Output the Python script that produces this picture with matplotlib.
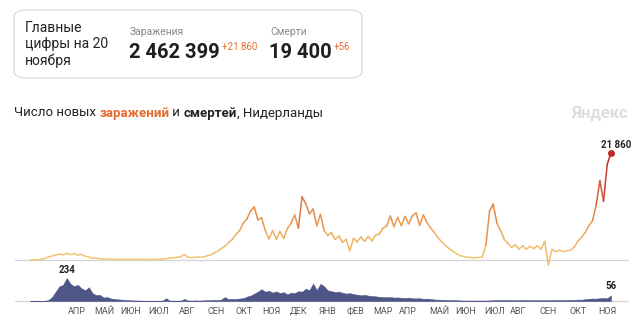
import matplotlib
matplotlib.use('Agg')
import matplotlib.pyplot as plt
from matplotlib.collections import LineCollection
from matplotlib.colors import LinearSegmentedColormap, Normalize
from matplotlib.patches import FancyBboxPatch
from matplotlib.transforms import blended_transform_factory
import numpy as np
import pandas as pd

plt.rcParams['font.family'] = ['Roboto', 'DejaVu Sans']

# ---------------------------------------------------------------------------
# data (one value every 4 days from 27 Feb 2020)
# ---------------------------------------------------------------------------

start_date = '2020-02-27'
step_days = 4

cases = [
    0, 10, 50, 150, 300, 600, 850, 1000, 1250, 1050,
    1350, 1100, 1300, 1000, 1150, 750, 600, 400, 350, 250,
    230, 200, 180, 160, 150, 140, 130, 150, 120, 140,
    130, 100, 110, 120, 140, 180, 200, 260, 400, 450,
    550, 650, 1100, 550, 500, 550, 580, 600, 800, 1000,
    1400, 1800, 2300, 2800, 3500, 4200, 5200, 6000, 7500, 8400,
    10000, 10800, 8200, 8600, 6000, 4300, 6000, 4200, 5800, 4400,
    6400, 7500, 9200, 6500, 12900, 11500, 9400, 10400, 7000, 9300,
    6000, 5000, 5600, 4200, 4900, 3600, 4200, 1900, 4400, 3700,
    4700, 3800, 4800, 3900, 5100, 5300, 6500, 6900, 9000, 6800,
    8700, 7000, 8900, 7400, 9000, 9600, 7100, 9200, 7600, 6500,
    5600, 4500, 3700, 3000, 2300, 1800, 1300, 900, 700, 550,
    500, 450, 500, 600, 3000, 10000, 11400, 7500, 6000, 4200,
    3400, 2600, 3100, 2200, 2900, 2200, 2800, 2300, 2900, 2200,
    3800, -1000, 2200, 1700, 2000, 1700, 1900, 2000, 2600, 3800,
    4600, 5600, 7000, 8000, 11200, 16200, 12000, 19500, 21860,
]

deaths = [
    0, 0, 0, 0, 1, 10, 40, 95, 150, 165,
    234, 175, 150, 165, 130, 110, 140, 80, 60, 64,
    35, 40, 25, 20, 16, 14, 10, 8, 6, 5,
    4, 3, 3, 2, 3, 3, 2, 28, 3, 4,
    3, 4, 20, 5, 4, 6, 5, 6, 8, 10,
    12, 10, 14, 40, 18, 22, 20, 25, 28, 45,
    55, 75, 95, 120, 95, 105, 85, 98, 80, 90,
    68, 85, 80, 100, 95, 125, 110, 177, 110, 175,
    150, 108, 100, 92, 95, 85, 75, 80, 70, 65,
    58, 62, 55, 50, 48, 42, 40, 38, 40, 35,
    36, 33, 30, 34, 28, 26, 28, 22, 24, 20,
    15, 14, 12, 11, 10, 9, 8, 6, 5, 5,
    4, 4, 5, 4, 5, 6, 8, 10, 9, 10,
    9, 8, 9, 8, 10, 9, 8, 9, 7, 8,
    9, 7, 8, 10, 9, 10, 11, 10, 12, 14,
    13, 18, 22, 25, 24, 28, 30, 27, 56,
]

month_labels = ['АПР', 'МАЙ', 'ИЮН', 'ИЮЛ', 'АВГ', 'СЕН', 'ОКТ', 'НОЯ', 'ДЕК',
                'ЯНВ', 'ФЕВ', 'МАР', 'АПР', 'МАЙ', 'ИЮН', 'ИЮЛ', 'АВГ', 'СЕН',
                'ОКТ', 'НОЯ']
month_dates = ['2020-04-18', '2020-05-18', '2020-06-16', '2020-07-16', '2020-08-16',
               '2020-09-16', '2020-10-17', '2020-11-16', '2020-12-15', '2021-01-16',
               '2021-02-15', '2021-03-17', '2021-04-13', '2021-05-17', '2021-06-15',
               '2021-07-17', '2021-08-11', '2021-09-13', '2021-10-15', '2021-11-16']

# ---------------------------------------------------------------------------
# layout helpers (pixel -> figure fraction)
# ---------------------------------------------------------------------------

W, H = 640, 328
def fx(x): return x / W
def fy(y): return 1 - y / H

fig = plt.figure(figsize=(6.4, 3.28), dpi=100)

dates = pd.date_range(start_date, periods=len(cases), freq=f'{step_days}D')
t0 = pd.Timestamp(start_date)
days = np.array([(d - t0).days for d in dates], dtype=float)
xlim = (-16.3, 651.7)

# ---------------------------------------------------------------------------
# cases
# ---------------------------------------------------------------------------

ax = fig.add_axes([fx(15), fy(268), (629 - 15) / W, (268 - 135) / H])
ax.set_xlim(*xlim)
ax.set_ylim(-1632, 25500)
ax.axis('off')
ax.axhline(0, color='#d4d4d4', lw=0.9, zorder=1)

cmap = LinearSegmentedColormap.from_list(
    'cases', ['#f3c97a', '#eeb060', '#e58a45', '#d6553a', '#c32a2a'])
vals = np.array(cases, dtype=float)
pts = np.column_stack([days, vals]).reshape(-1, 1, 2)
segs = np.concatenate([pts[:-1], pts[1:]], axis=1)
lc = LineCollection(segs, cmap=cmap, norm=Normalize(0, 22000), lw=1.1,
                    capstyle='round', joinstyle='round', zorder=3)
lc.set_array(np.maximum(vals[:-1], vals[1:]))
ax.add_collection(lc)
ax.plot(days[-1], vals[-1], 'o', color='#c32a2a', ms=4, zorder=4)
ax.annotate('21 860', (days[-1], vals[-1]), xytext=(4, 2),
            textcoords='offset points', ha='center', va='bottom',
            fontsize=7, fontweight='bold', color='#222222')

# ---------------------------------------------------------------------------
# deaths
# ---------------------------------------------------------------------------

ax2 = fig.add_axes([fx(15), fy(306), (629 - 15) / W, (306 - 262) / H])
ax2.set_xlim(*xlim)
ax2.set_ylim(-51, 398)
ax2.axis('off')
ax2.axhline(0, color='#d4d4d4', lw=0.9, zorder=1)
ax2.fill_between(days, deaths, 0, color='#4e5687', lw=0.4, zorder=2)

imax = int(np.argmax(deaths))
ax2.annotate(f'{deaths[imax]}', (days[imax], deaths[imax]), xytext=(0, 2),
             textcoords='offset points', ha='center', va='bottom',
             fontsize=7, fontweight='bold', color='#222222')
ax2.annotate(f'{deaths[-1]}', (days[-1], deaths[-1]), xytext=(0, 3),
             textcoords='offset points', ha='center', va='bottom',
             fontsize=7, fontweight='bold', color='#222222')

tr = blended_transform_factory(ax2.transData, fig.transFigure)
for lab, d in zip(month_labels, month_dates):
    x = (pd.Timestamp(d) - t0).days
    ax2.text(x, fy(311), lab, transform=tr, ha='center', va='center',
             fontsize=6.5, color='#555555',
             family=['Liberation Sans Narrow', 'Roboto', 'DejaVu Sans'])

# ---------------------------------------------------------------------------
# title + header card
# ---------------------------------------------------------------------------

t1 = fig.text(fx(14), fy(113), 'Число новых ', fontsize=9.5, color='#222222',
              va='center')
t2 = fig.text(0, 0, 'заражений', fontsize=9.5, color='#e8692d', fontweight='bold')
t3 = fig.text(0, 0, ' и ', fontsize=9.5, color='#222222')
t4 = fig.text(0, 0, 'смертей', fontsize=9.5, color='#222222', fontweight='bold')
t5 = fig.text(0, 0, ', Нидерланды', fontsize=9.5, color='#222222')
fig.canvas.draw()
r = fig.canvas.get_renderer()
prev = t1
for t in (t2, t3, t4, t5):
    bb = prev.get_window_extent(r)
    t.set_position((bb.x1 / fig.bbox.width, fy(113)))
    t.set_va('center')
    prev = t

fig.text(fx(628), fy(113), 'Яндекс', fontsize=12, color='#dedede',
         fontweight='bold', ha='right', va='center')

card = FancyBboxPatch((fx(14), fy(78)), fx(362) - fx(14), fy(10) - fy(78),
                      boxstyle='round,pad=0,rounding_size=0.02',
                      transform=fig.transFigure, facecolor='white',
                      edgecolor='#d9d9d9', lw=0.9)
fig.patches.append(card)

fig.text(fx(25), fy(44), 'Главные\nцифры на 20\nноября', fontsize=10,
         color='#222222', va='center', linespacing=1.2)

fig.text(fx(130), fy(32), 'Заражения', fontsize=7.5, color='#8a8a8a', va='center')
n1 = fig.text(fx(129), fy(53), '2 462 399', fontsize=14.5, fontweight='bold',
              color='#1e1e1e', va='center')
fig.text(fx(270), fy(32), 'Смерти', fontsize=7.5, color='#8a8a8a', va='center')
n2 = fig.text(fx(269), fy(53), '19 400', fontsize=14.5, fontweight='bold',
              color='#1e1e1e', va='center')
fig.canvas.draw()
for n, s in ((n1, '+21 860'), (n2, '+56')):
    bb = n.get_window_extent(r)
    fig.text(bb.x1 / fig.bbox.width + fx(2), fy(47), s, fontsize=7,
             color='#e8692d', va='center')

fig.savefig('out.png', dpi=100)
